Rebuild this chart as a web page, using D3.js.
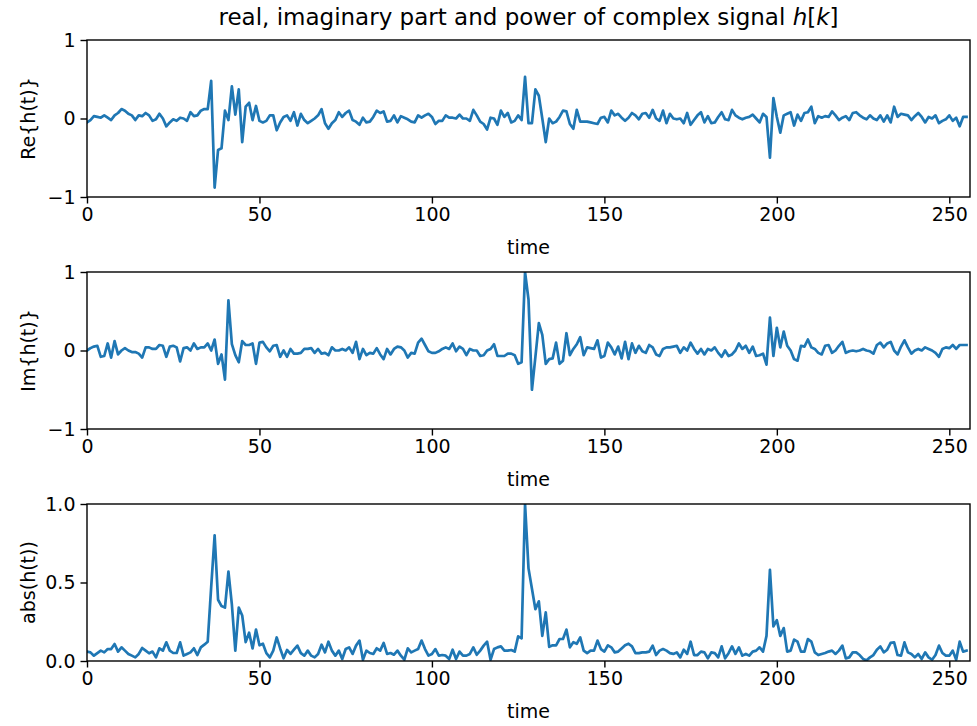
<!DOCTYPE html>
<html lang="en">
<head>
    <meta charset="UTF-8">
    <title>real, imaginary part and power of complex signal h[k]</title>
    <script src="https://d3js.org/d3.v7.min.js"></script>
    <style>
        body { margin: 0; background: #fff; }
        svg { font-family: "DejaVu Sans", sans-serif; }
        .tick text { font-size: 19px; fill: #000; }
        .tick line { stroke: #000; }
    </style>
</head>
<body>
    <div id="chart"></div>

    <script>
        // values, one per sample k = 0..255
        const reH = [
            -0.05, -0.02, 0.03, 0.02, 0.01, 0.04, 0.01, -0.02, 0.04, 0.07,
            0.12, 0.1, 0.06, 0.04, -0.02, 0.04, 0.03, 0.07, 0.04, -0.03,
            -0.01, 0.06, 0, -0.1, -0.05, -0.01, -0.03, 0.01, 0, -0.03,
            0.08, 0.03, 0.04, 0.1, 0.12, 0.12, 0.48, -0.88, -0.40, -0.38,
            0.1, -0.02, 0.41, 0.05, 0.37, -0.30, 0.15, 0.2, -0.02, 0.16,
            -0.03, -0.05, -0.03, 0.04, 0.04, -0.15, -0.05, 0.02, 0.04, -0.03,
            0.08, -0.09, 0.06, -0.02, -0.06, -0.03, 0, 0.04, 0.12, -0.06,
            -0.13, -0.06, -0.02, 0.08, 0.02, 0.07, 0.1, -0.02, -0.04, -0.08,
            0.01, -0.05, -0.04, 0.02, 0.1, 0.07, 0.09, -0.04, -0.03, 0.04,
            -0.05, 0.03, 0.01, -0.01, -0.04, -0.05, 0.04, 0.01, 0.04, 0.06,
            0.02, -0.07, -0.03, -0.03, 0.04, 0.01, 0.01, 0, 0.05, 0,
            0, -0.03, 0.11, 0.04, -0.04, -0.07, -0.14, 0.01, 0, -0.08,
            0.1, 0.02, 0.07, -0.05, -0.03, 0.04, -0.02, 0.53, -0.06, -0.06,
            0.37, 0.29, 0, -0.30, 0, -0.06, -0.04, 0.02, 0.1, 0.09,
            -0.07, -0.13, 0.11, -0.04, -0.04, -0.04, -0.05, -0.06, -0.07, 0.01,
            0.02, -0.05, 0.1, 0.04, 0.06, 0.01, -0.03, 0.01, 0.07, 0.04,
            -0.01, 0.06, 0.07, 0.01, 0.11, 0, -0.03, 0.1, -0.06, 0.06,
            0, -0.01, 0, -0.06, 0.07, -0.08, -0.02, 0.04, 0.08, -0.05,
            0.03, -0.06, -0.05, 0.02, 0.08, -0.01, -0.02, 0.11, 0.04, 0.01,
            -0.01, 0.01, 0.02, 0.05, 0, -0.05, 0.06, 0.02, -0.50, 0.26,
            0.02, -0.18, 0.04, 0.06, 0.08, -0.09, 0.05, -0.03, 0.07, 0.08,
            0.15, -0.06, 0.03, 0.01, 0.03, 0.02, 0.09, 0.04, -0.02, 0.01,
            0.03, -0.02, 0.07, 0.08, 0.04, 0.01, -0.01, 0.04, 0, -0.02,
            0.04, -0.04, 0.04, -0.05, 0.15, 0.02, 0.06, 0.05, 0.04, -0.02,
            0.03, 0.07, 0.02, -0.05, 0.02, 0, 0.04, -0.06, -0.03, -0.01,
            0.04, -0.03, 0.01, -0.1, 0.02, 0.02
        ];

        const imH = [
            0, 0.03, 0.05, 0.06, -0.08, -0.07, 0.09, -0.09, 0.12, -0.05,
            0, 0.03, 0, -0.02, -0.02, -0.04, -0.09, 0.04, 0.04, 0.02,
            0.02, 0.07, 0.06, -0.08, 0.05, 0.06, 0.04, -0.14, 0.03, 0.04,
            0, 0.09, 0.02, 0.04, 0.04, 0.09, 0, 0.14, -0.17, -0.05,
            -0.37, 0.64, 0.08, -0.06, -0.15, 0.12, 0.07, 0.07, 0.09, -0.17,
            0.1, 0.11, 0.04, -0.01, 0.06, 0.07, -0.08, 0, -0.08, 0.02,
            -0.04, -0.04, -0.03, 0.02, 0.02, 0.03, -0.03, 0.02, -0.04, -0.03,
            -0.06, 0.04, 0, 0, 0.02, 0, 0.04, -0.03, 0.11, -0.11,
            0.02, -0.06, -0.03, -0.04, 0.03, -0.05, -0.11, 0.02, -0.05, 0.02,
            0.05, 0.04, 0, -0.09, -0.03, -0.04, 0.1, 0.15, 0.07, -0.01,
            -0.03, -0.03, -0.01, 0.02, 0.04, 0.02, 0.09, -0.01, 0.05, 0.02,
            -0.06, 0.02, 0, 0, -0.07, -0.06, 0, 0.02, 0.08, -0.07,
            -0.07, -0.07, -0.04, -0.04, -0.06, -0.17, -0.15, 1.0, 0.65, -0.5,
            -0.08, 0.35, 0.2, -0.17, -0.11, -0.1, 0.1, -0.17, -0.13, 0.22,
            -0.06, 0.02, 0.08, 0.17, -0.06, 0.04, 0.03, 0.02, 0.13, -0.09,
            -0.07, 0.1, 0.04, -0.05, 0.05, -0.1, 0.11, -0.11, 0.09, -0.03,
            0.06, -0.01, -0.03, 0.07, 0.04, -0.05, -0.07, 0.02, 0.04, 0.04,
            0.05, 0.06, -0.03, 0.04, 0, 0.1, 0.02, -0.04, 0.02, -0.05,
            0.02, 0, 0.04, -0.03, -0.08, 0, -0.07, -0.05, 0, 0.09,
            0.02, 0.06, -0.03, 0.05, -0.07, -0.06, -0.04, -0.18, 0.42, -0.07,
            0.29, 0.04, 0.24, 0.06, 0, -0.11, -0.13, 0.06, 0.05, 0.14,
            0.04, 0.02, -0.03, -0.05, 0.06, 0.07, -0.03, 0, 0.06, 0.11,
            -0.03, -0.01, 0, -0.01, 0, 0.02, 0, -0.01, -0.04, 0.07,
            0.1, 0.04, 0.09, 0.11, 0, -0.05, 0.05, 0.13, 0.04, -0.04,
            0, 0.02, 0, 0.04, 0.02, 0, -0.03, -0.08, 0.02, 0.04,
            0.03, 0.07, 0.02, 0.07, 0.07, 0.07
        ];

        const absH = [
            0.06, 0.055, 0.034, 0.05, 0.066, 0.055, 0.076, 0.076, 0.108, 0.06,
            0.087, 0.066, 0.045, 0.034, 0.023, 0.045, 0.083, 0.066, 0.049, 0.06,
            0.023, 0.081, 0.066, 0.119, 0.066, 0.051, 0.051, 0.119, 0.034, 0.045,
            0.055, 0.081, 0.038, 0.087, 0.104, 0.123, 0.47, 0.80, 0.39, 0.35,
            0.34, 0.57, 0.36, 0.066, 0.34, 0.29, 0.12, 0.18, 0.08, 0.2,
            0.1, 0.11, 0.05, 0.023, 0.066, 0.15, 0.08, 0.017, 0.07, 0.045,
            0.072, 0.098, 0.05, 0.034, 0.066, 0.034, 0.023, 0.045, 0.104, 0.055,
            0.123, 0.066, 0.034, 0.066, 0.013, 0.076, 0.087, 0.045, 0.098, 0.13,
            0.008, 0.066, 0.051, 0.045, 0.081, 0.066, 0.115, 0.045, 0.051, 0.04,
            0.066, 0.034, 0.008, 0.081, 0.055, 0.066, 0.076, 0.13, 0.076, 0.034,
            0.045, 0.076, 0.034, 0.038, 0.034, 0.013, 0.072, 0.013, 0.06, 0.034,
            0.034, 0.045, 0.087, 0.04, 0.066, 0.098, 0.123, 0.008, 0.076, 0.087,
            0.093, 0.066, 0.066, 0.07, 0.06, 0.157, 0.144, 1.0, 0.59, 0.46,
            0.33, 0.38, 0.16, 0.31, 0.09, 0.1, 0.1, 0.14, 0.14, 0.2,
            0.087, 0.12, 0.11, 0.15, 0.066, 0.05, 0.066, 0.066, 0.13, 0.076,
            0.06, 0.1, 0.087, 0.055, 0.06, 0.08, 0.1, 0.11, 0.093, 0.05,
            0.05, 0.055, 0.055, 0.06, 0.098, 0.038, 0.066, 0.076, 0.066, 0.05,
            0.045, 0.055, 0.023, 0.072, 0.045, 0.123, 0.038, 0.038, 0.06, 0.055,
            0.017, 0.055, 0.05, 0.023, 0.093, 0.017, 0.05, 0.093, 0.045, 0.087,
            0.034, 0.045, 0.034, 0.06, 0.066, 0.087, 0.06, 0.16, 0.58, 0.22,
            0.26, 0.16, 0.21, 0.06, 0.066, 0.136, 0.123, 0.06, 0.06, 0.14,
            0.123, 0.055, 0.038, 0.045, 0.051, 0.06, 0.066, 0.045, 0.066, 0.098,
            0.017, 0.023, 0.055, 0.055, 0.038, 0.013, 0.004, 0.023, 0.038, 0.072,
            0.093, 0.055, 0.072, 0.115, 0.119, 0.038, 0.034, 0.119, 0.055, 0.045,
            0.023, 0.045, 0.013, 0.055, 0.023, 0.008, 0.038, 0.098, 0.051, 0.034,
            0.034, 0.066, 0.008, 0.123, 0.06, 0.066
        ];

        const xTicks = [0, 50, 100, 150, 200, 250];
        const yTicksReIm = [-1, 0, 1];
        const yTicksAbs = [0, 0.5, 1.0];
        const yLabels = ["Re{h(t)}", "Im{h(t)}", "abs(h(t))"];

        const width = 977;
        const height = 726;
        const left = 87;
        const right = 970;
        const panelTops = [40, 272, 504];
        const panelH = 157;
        const lineColor = "#1f77b4";

        const svg = d3.select("#chart").append("svg")
            .attr("width", width)
            .attr("height", height);

        svg.append("rect")
            .attr("width", width)
            .attr("height", height)
            .attr("fill", "#fff");

        // title with mathtext-like italic h and k
        const title = svg.append("text")
            .attr("x", (left + right) / 2)
            .attr("y", 25)
            .attr("text-anchor", "middle")
            .attr("font-size", "23px");
        title.append("tspan").text("real, imaginary part and power of complex signal ");
        title.append("tspan").attr("font-style", "italic").text("h");
        title.append("tspan").text("[");
        title.append("tspan").attr("font-style", "italic").text("k");
        title.append("tspan").text("]");

        const x = d3.scaleLinear().domain([0, 256]).range([left, right]);

        const panels = [
            { values: reH, domain: [-1, 1], ticks: yTicksReIm, fmt: d3.format("d") },
            { values: imH, domain: [-1, 1], ticks: yTicksReIm, fmt: d3.format("d") },
            { values: absH, domain: [0, 1], ticks: yTicksAbs, fmt: d3.format(".1f") }
        ];

        panels.forEach((p, i) => {
            const top = panelTops[i];
            const y = d3.scaleLinear().domain(p.domain).range([top + panelH, top]);

            const g = svg.append("g");

            const line = d3.line()
                .x((d, k) => x(k))
                .y(d => y(d));

            g.append("clipPath")
                .attr("id", "clip" + i)
                .append("rect")
                .attr("x", left)
                .attr("y", top)
                .attr("width", right - left)
                .attr("height", panelH);

            g.append("path")
                .datum(p.values)
                .attr("clip-path", "url(#clip" + i + ")")
                .attr("fill", "none")
                .attr("stroke", lineColor)
                .attr("stroke-width", 2.7)
                .attr("stroke-linejoin", "round")
                .attr("stroke-linecap", "square")
                .attr("d", line);

            // axes
            const xAxis = g.append("g")
                .attr("transform", "translate(0," + (top + panelH) + ")")
                .call(d3.axisBottom(x).tickValues(xTicks).tickSize(6.5).tickPadding(4).tickSizeOuter(0));
            const yAxis = g.append("g")
                .attr("transform", "translate(" + left + ",0)")
                .call(d3.axisLeft(y).tickValues(p.ticks).tickFormat(p.fmt).tickSize(6.5).tickPadding(5).tickSizeOuter(0));
            [xAxis, yAxis].forEach(a => {
                a.select(".domain").remove();
                a.selectAll(".tick line").attr("stroke-width", 1.4);
                a.attr("font-family", null).attr("font-size", null);
            });

            // frame
            g.append("rect")
                .attr("x", left)
                .attr("y", top)
                .attr("width", right - left)
                .attr("height", panelH)
                .attr("fill", "none")
                .attr("stroke", "#000")
                .attr("stroke-width", 1.4);

            g.append("text")
                .attr("x", (left + right) / 2)
                .attr("y", top + panelH + 57)
                .attr("text-anchor", "middle")
                .attr("font-size", "19px")
                .text("time");

            g.append("text")
                .attr("transform", "translate(35," + (top + panelH / 2) + ") rotate(-90)")
                .attr("text-anchor", "middle")
                .attr("font-size", "19px")
                .text(yLabels[i]);
        });
    </script>
</body>
</html>
